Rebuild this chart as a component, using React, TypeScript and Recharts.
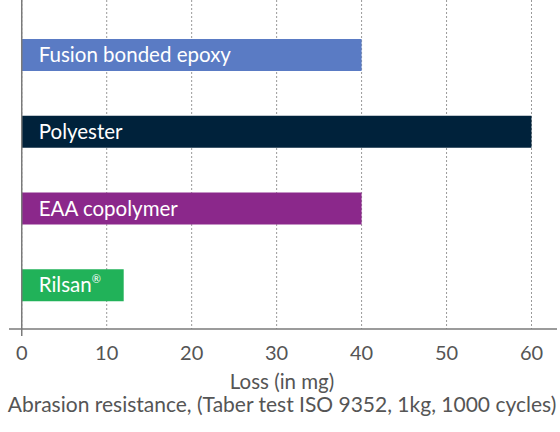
import React from 'react';
import { BarChart, Bar, XAxis, YAxis, CartesianGrid, ReferenceLine, LabelList, Cell } from 'recharts';

const categories = ['Fusion bonded epoxy', 'Polyester', 'EAA copolymer', 'Rilsan®'];
const lossValues = [40, 60, 40, 12];
const barColors = ['#5a7bc4', '#00223b', '#8b288b', '#21b259'];
const xTicks = [0, 10, 20, 30, 40, 50, 60];
const xAxisTitle = 'Loss (in mg)';
const chartTitle = 'Abrasion resistance, (Taber test ISO 9352, 1kg, 1000 cycles)';

const data = categories.map((name, i) => ({ name, loss: lossValues[i] }));

const FONT = 'Lato, "Open Sans", sans-serif';
const GRAY = '#555555';
const AXIS = '#7a7a7a';

const XTick = (props: any) => {
  const { x, y, payload } = props;
  // y here is axis line + tickSize(6) + tickMargin(2)
  const axisY = y - 8;
  return (
    <g>
      {payload.value === 0 && <line x1={x} x2={x} y1={axisY} y2={axisY + 7} stroke={AXIS} strokeWidth={1.5} />}
      <text x={x} y={axisY + 31} textAnchor="middle" fill={GRAY} fontSize={20} fontFamily={FONT}>
        {payload.value}
      </text>
    </g>
  );
};

const AxisTitles = (props: any) => {
  const { viewBox } = props;
  const cx = 282;
  return (
    <g>
      <text x={cx} y={viewBox.y + 60} textAnchor="middle" fill={GRAY} fontSize={20.5} fontFamily={FONT}>
        {xAxisTitle}
      </text>
      <text x={cx} y={viewBox.y + 83} textAnchor="middle" fill={GRAY} fontSize={21} fontFamily={FONT}>
        {chartTitle}
      </text>
    </g>
  );
};

const BarLabel = (props: any) => {
  const { x, y, height, value } = props;
  const str = String(value);
  const hasReg = str.endsWith('®');
  const main = hasReg ? str.slice(0, -1) : str;
  return (
    <text x={x + 17} y={y + height / 2 + 7} fill="#ffffff" fontSize={20.5} fontFamily={FONT}>
      {main}
      {hasReg && (
        <tspan fontSize={11} dy={-9}>
          ®
        </tspan>
      )}
    </text>
  );
};

export default function App() {
  return (
    <div style={{ position: 'absolute', left: 0, top: 0, width: 560, height: 432, background: '#fff' }}>
      <BarChart
        width={560}
        height={432}
        data={data}
        layout="vertical"
        margin={{ top: 0, right: 3, bottom: 0, left: 9 }}
        barCategoryGap={0}
      >
        <CartesianGrid horizontal={false} vertical syncWithTicks stroke="#9a9a9a" strokeDasharray="2 2" />
        <XAxis
          type="number"
          dataKey="loss"
          domain={[-1.5, 63]}
          ticks={xTicks}
          allowDataOverflow
          height={103}
          axisLine={{ stroke: AXIS, strokeWidth: 1.5 }}
          tickLine={false}
          tick={<XTick />}
          interval={0}
          label={<AxisTitles />}
        />
        <YAxis
          type="category"
          dataKey="name"
          hide
          width={0}
          padding={{ top: 17, bottom: 5 }}
        />
        <ReferenceLine x={0} stroke={AXIS} strokeWidth={1.5} />
        <Bar dataKey="loss" barSize={32} isAnimationActive={false}>
          {data.map((d, i) => (
            <Cell key={d.name} fill={barColors[i]} />
          ))}
          <LabelList dataKey="name" content={<BarLabel />} />
        </Bar>
      </BarChart>
    </div>
  );
}
